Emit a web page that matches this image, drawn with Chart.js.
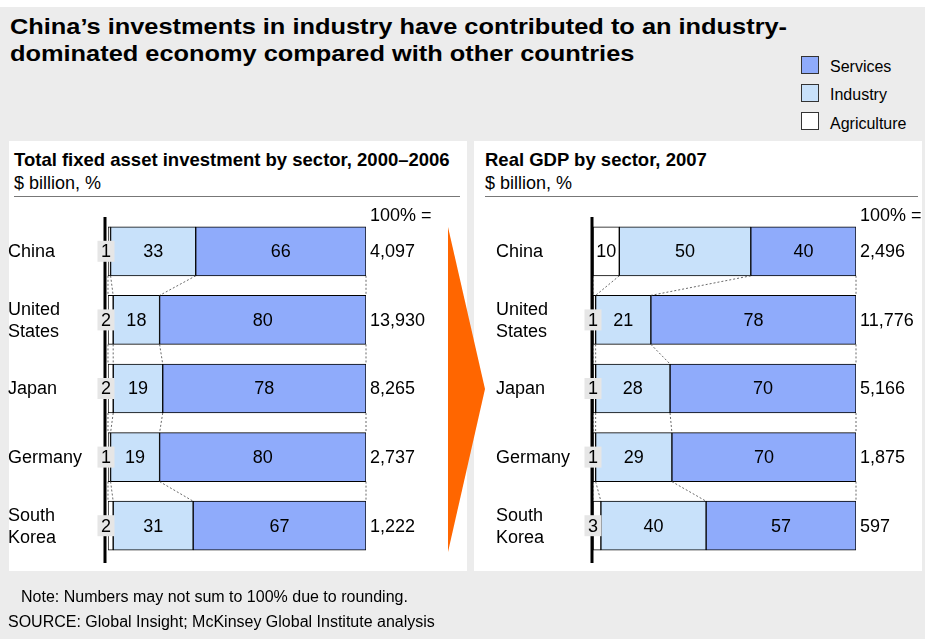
<!DOCTYPE html>
<html>
<head>
<meta charset="utf-8">
<script src="https://cdn.jsdelivr.net/npm/chart.js@4.4.1/dist/chart.umd.min.js"></script>
<style>
  body { margin: 0; width: 925px; height: 639px; background: #ececec; position: relative; overflow: hidden;
         font-family: Arial, "Liberation Sans", sans-serif; color: #000; }
  .abs { position: absolute; }
  .topstrip { left: 0; top: 0; width: 925px; height: 7px; background: #fff; }
  .title { left: 10px; top: 13px; font-weight: bold; font-size: 22px; line-height: 27px; white-space: nowrap;
           transform: scaleX(1.153); transform-origin: 0 0; }
  .legend-box { width: 16px; height: 16px; border: 1px solid #333; }
  .legend-text { font-size: 16px; line-height: 18px; }
  .panel { top: 141px; height: 430px; background: #fff; }
  .ptitle { font-weight: bold; font-size: 18.5px; line-height: 22px; white-space: nowrap; }
  .psub { font-size: 18px; line-height: 22px; }
  .rule { height: 1px; background: #777; }
  .note { font-size: 16px; line-height: 18px; white-space: nowrap; }
  canvas { position: absolute; }
</style>
</head>
<body>
<div class="abs topstrip"></div>
<div class="abs title">China’s investments in industry have contributed to an industry-<br>dominated economy compared with other countries</div>

<div class="abs legend-box" style="left:801px;top:56px;background:#8fabfb"></div>
<div class="abs legend-text" style="left:830px;top:58px">Services</div>
<div class="abs legend-box" style="left:801px;top:84px;background:#c8e1fa"></div>
<div class="abs legend-text" style="left:830px;top:86px">Industry</div>
<div class="abs legend-box" style="left:801px;top:112px;background:#fff"></div>
<div class="abs legend-text" style="left:830px;top:115px">Agriculture</div>

<div class="abs panel" style="left:9px;width:458px"></div>
<div class="abs panel" style="left:474px;width:448px"></div>

<div class="abs ptitle" style="left:14px;top:149px">Total fixed asset investment by sector, 2000–2006</div>
<div class="abs psub" style="left:14px;top:172px">$ billion, %</div>
<div class="abs rule" style="left:14px;top:196px;width:446px"></div>

<div class="abs ptitle" style="left:485px;top:149px">Real GDP by sector, 2007</div>
<div class="abs psub" style="left:485px;top:172px">$ billion, %</div>
<div class="abs rule" style="left:485px;top:196px;width:433px"></div>

<canvas id="invest" width="470" height="372" style="left:0;top:200px"></canvas>
<canvas id="gdp" width="455" height="372" style="left:470px;top:200px"></canvas>

<svg class="abs" style="left:0;top:0" width="925" height="639">
  <polygon points="448,227 485,389 448,552" fill="#ff6600"/>
</svg>

<div class="abs note" style="left:21px;top:588px">Note: Numbers may not sum to 100% due to rounding.</div>
<div class="abs note" style="left:8px;top:613px">SOURCE: Global Insight; McKinsey Global Institute analysis</div>

<script>
const countries = ['China', 'United States', 'Japan', 'Germany', 'South Korea'];
const sectors = ['Agriculture', 'Industry', 'Services'];
const sectorColors = ['#ffffff', '#c8e1fa', '#8fabfb'];

// total fixed asset investment 2000-2006, %
const investAgriculture = [1, 2, 2, 1, 2];
const investIndustry = [33, 18, 19, 19, 31];
const investServices = [66, 80, 78, 80, 67];
const investTotals = [4097, 13930, 8265, 2737, 1222];

// real GDP 2007, %
const gdpAgriculture = [10, 1, 1, 1, 3];
const gdpIndustry = [50, 21, 28, 29, 40];
const gdpServices = [40, 78, 70, 70, 57];
const gdpTotals = [2496, 11776, 5166, 1875, 597];

const FONT = '18px Arial, "Liberation Sans", sans-serif';

// bars are drawn as full 100% bars even when the rounded numbers don't add up
function shares(series) {
  return series.map(s => s.map((v, i) => {
    const sum = series.reduce((acc, ser) => acc + ser[i], 0);
    return v / sum * 100;
  }));
}

const panelPlugin = {
  id: 'panel',
  afterDatasetsDraw(chart, args, opts) {
    const ctx = chart.ctx;
    const area = chart.chartArea;
    const xs = chart.scales.x;
    const raw = opts.raw;
    const data = chart.data.datasets.map(d => d.data);
    const bars = chart.getDatasetMeta(0).data.map(el => el.getProps(['y', 'height'], true));

    ctx.save();
    // dashed connectors between neighbouring bars
    ctx.strokeStyle = '#444';
    ctx.lineWidth = 0.8;
    ctx.setLineDash([2, 2]);
    const cum = i => {
      const out = [0];
      let c = 0;
      data.forEach(d => { c += d[i]; out.push(c); });
      return out;
    };
    for (let i = 0; i < bars.length - 1; i++) {
      const a = cum(i), b = cum(i + 1);
      const y0 = bars[i].y + bars[i].height / 2;
      const y1 = bars[i + 1].y - bars[i + 1].height / 2;
      for (let k = 0; k < a.length; k++) {
        ctx.beginPath();
        ctx.moveTo(xs.getPixelForValue(a[k]), y0);
        ctx.lineTo(xs.getPixelForValue(b[k]), y1);
        ctx.stroke();
      }
    }
    ctx.setLineDash([]);

    // axis line
    const ax = area.left - opts.axisGap;
    ctx.strokeStyle = '#000';
    ctx.lineWidth = 3;
    ctx.beginPath();
    ctx.moveTo(ax, area.top);
    ctx.lineTo(ax, area.bottom + 3);
    ctx.stroke();

    ctx.font = FONT;
    ctx.fillStyle = '#000';
    ctx.textBaseline = 'middle';

    // segment values
    bars.forEach((bar, i) => {
      let c = 0;
      data.forEach((d, k) => {
        const x0 = xs.getPixelForValue(c);
        const x1 = xs.getPixelForValue(c + d[i]);
        c += d[i];
        const v = raw[k][i];
        ctx.textAlign = 'center';
        if (k === 0 && v < 5) {
          const bx = ax + 1;
          ctx.fillStyle = '#e6e6e6';
          ctx.fillRect(bx - 8.5, bar.y - 10.5, 17, 21);
          ctx.fillStyle = '#000';
          ctx.fillText(String(v), bx, bar.y + 1);
        } else {
          ctx.fillText(String(v), (x0 + x1) / 2, bar.y + 1);
        }
      });
    });

    // country names
    ctx.textAlign = 'left';
    chart.data.labels.forEach((name, i) => {
      const lines = name.split(' ');
      const y = bars[i].y + 1;
      if (lines.length === 1) ctx.fillText(lines[0], opts.labelX, y);
      else {
        ctx.fillText(lines[0], opts.labelX, y - 11);
        ctx.fillText(lines[1], opts.labelX, y + 11);
      }
    });

    // totals
    const tx = area.right + 4;
    ctx.fillText('100% =', tx, area.top - 1);
    opts.totals.forEach((t, i) => ctx.fillText(t.toLocaleString('en-US'), tx, bars[i].y + 1));
    ctx.restore();
  }
};

function makeChart(id, series, totals, padding, axisGap, labelX) {
  const pct = shares(series);
  return new Chart(document.getElementById(id), {
    type: 'bar',
    data: {
      labels: countries,
      datasets: sectors.map((s, k) => ({
        label: s,
        data: pct[k],
        backgroundColor: sectorColors[k],
        borderColor: '#000',
        borderWidth: 1,
        borderSkipped: false,
        barThickness: 49
      }))
    },
    options: {
      indexAxis: 'y',
      responsive: false,
      animation: false,
      devicePixelRatio: 1,
      layout: { padding: padding },
      scales: {
        x: { stacked: true, min: 0, max: 100, display: false },
        y: { stacked: true, display: false }
      },
      plugins: {
        legend: { display: false },
        tooltip: { enabled: false },
        panel: { raw: series, totals: totals, axisGap: axisGap, labelX: labelX }
      }
    },
    plugins: [panelPlugin]
  });
}

makeChart('invest', [investAgriculture, investIndustry, investServices], investTotals,
  { left: 108, right: 104, top: 17, bottom: 12 }, 3, 8);
makeChart('gdp', [gdpAgriculture, gdpIndustry, gdpServices], gdpTotals,
  { left: 123, right: 69, top: 17, bottom: 12 }, 1, 26);
</script>
</body>
</html>
